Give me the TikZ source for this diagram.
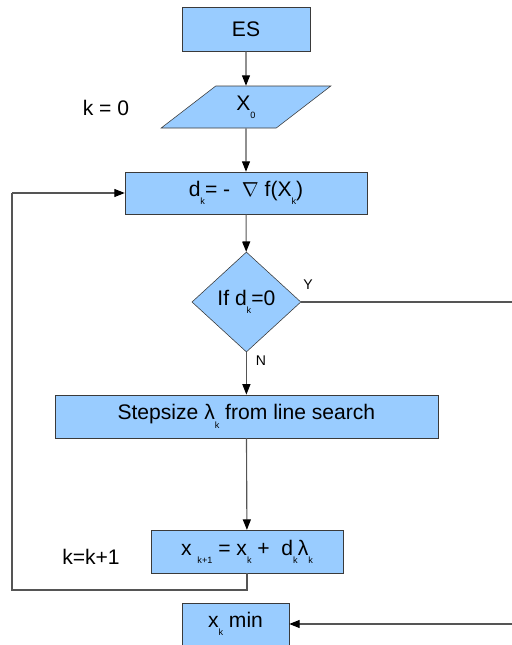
\documentclass[tikz,border=0pt]{standalone}
\usepackage{fontspec}
\setmainfont{Liberation Sans}
\usetikzlibrary{shapes.geometric, arrows.meta, positioning}

\definecolor{boxblue}{HTML}{99CCFF}
\definecolor{edgegray}{HTML}{3A3A3A}
\definecolor{linegray}{HTML}{555555}
\newcommand{\lowidx}[1]{\raisebox{-0.75ex}{\fontsize{6.5}{7}\selectfont #1}}

\begin{document}
\begin{tikzpicture}[
			font=\fontsize{15}{17}\selectfont,
			block/.style={rectangle, draw=edgegray, fill=boxblue, inner sep=2pt},
			io/.style={trapezium, trapezium left angle=52, trapezium right angle=128, trapezium stretches=true, draw=edgegray, fill=boxblue, inner sep=2pt},
			decision/.style={diamond, draw=edgegray, fill=boxblue, inner sep=0pt},
			arrow/.style={-{Triangle[length=2.6mm, width=2mm, color=black]}, draw=linegray, thick},
			plain/.style={draw=linegray, thick},
			label/.style={font=\fontsize{10}{12}\selectfont}
			]
			\useasboundingbox (0,0) rectangle (12.8,-16.125);
			\node[block, minimum width=3.2cm, minimum height=1.1cm] (es) at (6.15,-0.725) {ES};
			\node[io, minimum width=4.25cm, minimum height=1.05cm] (x0) at (6.15,-2.675) {X\lowidx{0}};
			\node (k0) at (2.65,-2.7) {k = 0};
			\node[block, minimum width=6.05cm, minimum height=1.05cm] (dk) at (6.15,-4.825) {d\lowidx{k}= - \ $\nabla$ f(X\lowidx{k})};
			\node[decision, minimum width=2.725cm, minimum height=2.5cm] (test) at (6.16,-7.55) {If d\lowidx{k}=0};
			\node[label] (yes) at (7.7,-7.125) {Y};
			\node[label] (no) at (6.525,-9.025) {N};
			\node[block, minimum width=9.575cm, minimum height=1.075cm] (step) at (6.16,-10.41) {Stepsize λ\lowidx{k} from line search};
			\node[block, minimum width=4.8cm, minimum height=1.075cm] (upd) at (6.175,-13.79) {x \lowidx{k+1} = x\lowidx{k} + \ d\lowidx{k}λ\lowidx{k}};
			\node (kk) at (2.275,-13.925) {k=k+1};
			\node[block, minimum width=2.675cm, minimum height=1.05cm] (xmin) at (5.8875,-15.6) {x\lowidx{k} min};
			\coordinate (right) at (12.82,-7.55);
			\coordinate (left) at (0.3,-14.75);

			\draw[arrow] (es) -- (x0);
			\draw[arrow] (x0) -- (dk);
			\draw[arrow] (dk) -- (test);
			\draw[arrow] (test) -- (step);
			\draw[arrow] (step) -- (upd);
			\draw[plain] (upd.south) |- (left) -- (left |- dk.west);
			\draw[arrow] (left |- dk.west) -- (dk.west);
			\draw[arrow] (test.east) -- (right) |- (xmin.east);
		\end{tikzpicture}
\end{document}
